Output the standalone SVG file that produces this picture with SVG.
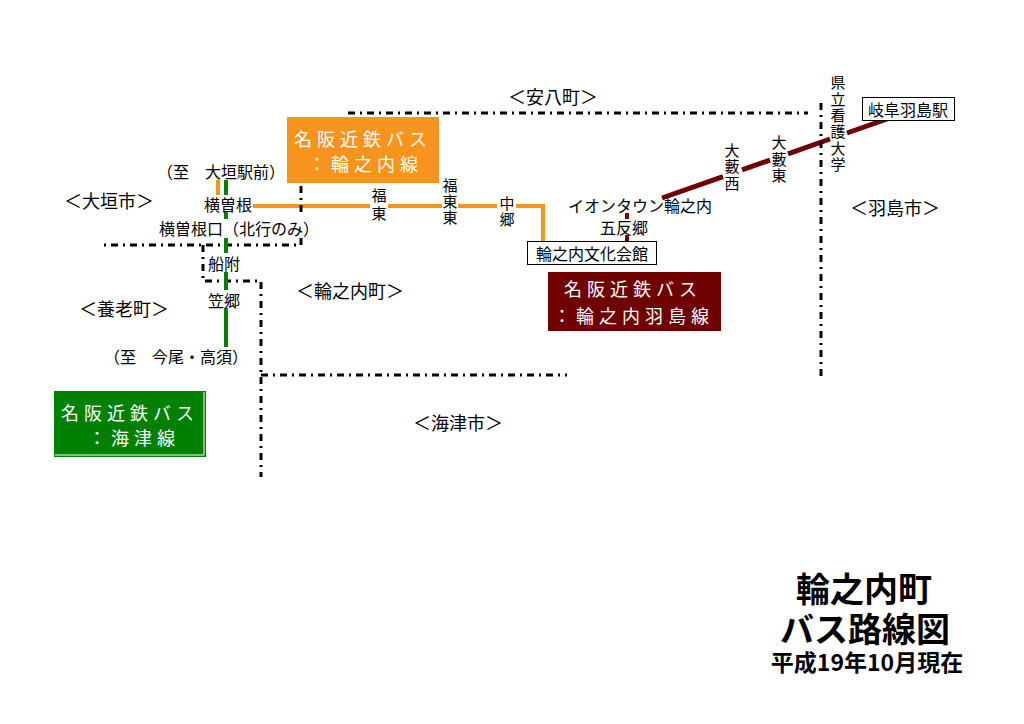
<svg xmlns="http://www.w3.org/2000/svg" width="1024" height="724" viewBox="0 0 1024 724">
<style>
text{font-family:"Noto Sans CJK JP","Noto Sans CJK SC",sans-serif;fill:#000;dominant-baseline:central}
.st{font-size:16px}
.vt{font-size:15px;writing-mode:vertical-rl;text-orientation:upright}
.rg{font-size:18px;text-anchor:middle}
.mid{text-anchor:middle}
.lg{font-size:18px;fill:#fff;letter-spacing:5px}
.ttl{font-weight:bold;text-anchor:middle}
.bd{fill:none;stroke:#000;stroke-width:3;stroke-dasharray:7 5 2 5}
.or{fill:none;stroke:#F7941D;stroke-width:4}
.rd{fill:none;stroke:#700000;stroke-width:4}
.rdd{fill:none;stroke:#700000;stroke-width:5}
.gr{fill:none;stroke:#008000;stroke-width:4}
.box{fill:#fff;stroke:#000;stroke-width:1}
</style>
<rect width="1024" height="724" fill="#fff"/>
<g id="connectors">
<path class="or" d="M218 180V195"/>
<path class="or" d="M253 206H370M388 206H442M458 206H497M516 206H543V241"/>
<path class="rdd" d="M662 198L723 176.6M742 169.9L770 160.1M788 153.8L830 139M847 133L887 119"/>
<path class="rd" d="M627 213V219M627 235V242"/>
<path class="bd" d="M348 113H808"/>
<path class="bd" d="M821 103V377"/>
<path class="bd" d="M301 186V214"/>
<path class="bd" d="M301 238V245H100"/>
<path class="bd" d="M203 245V281H261V477"/>
<path class="bd" d="M261 375H567"/>
<path class="gr" d="M226 180V195M226 212V219M226 238V253M226 272V290M226 308V347"/>
</g>
<g id="legend-wanouchi">
<rect x="287" y="117" width="152" height="66" fill="#F7941D"/>
<text class="lg" x="294" y="138">名阪近鉄バス</text>
<text class="lg" x="308" y="163">：輪之内線</text>
</g>
<g id="legend-hashima">
<rect x="548" y="272" width="173" height="59" fill="#6E0000"/>
<text class="lg" x="564" y="288">名阪近鉄バス</text>
<text class="lg" x="553" y="315">：輪之内羽島線</text>
</g>
<g id="legend-kaizu">
<rect x="54" y="391" width="152" height="66" fill="#008000"/>
<polyline points="55,455 204,455 204,392" fill="none" stroke="#fff" stroke-width="1"/>
<text class="lg" x="61" y="412">名阪近鉄バス</text>
<text class="lg" x="88" y="437">：海津線</text>
</g>
<g id="regions">
<text class="rg" x="553" y="96">＜安八町＞</text>
<text class="rg" x="109" y="200">＜大垣市＞</text>
<text class="rg" x="124" y="308">＜養老町＞</text>
<text class="rg" x="350" y="290">＜輪之内町＞</text>
<text class="rg" x="458" y="422">＜海津市＞</text>
<text class="rg" x="895" y="207">＜羽島市＞</text>
</g>
<g id="st-ogaki"><text class="st mid" x="221" y="171">（至　大垣駅前）</text></g>
<g id="st-yokosone"><text class="st mid" x="228" y="204">横曽根</text></g>
<g id="st-yokosoneguchi"><text class="st" x="159" y="228">横曽根口（北行のみ）</text></g>
<g id="st-funatsuki"><text class="st mid" x="224" y="263">船附</text></g>
<g id="st-kasago"><text class="st mid" x="224" y="300">笠郷</text></g>
<g id="st-imao"><text class="st mid" x="176" y="356">（至　今尾・高須）</text></g>
<g id="st-fukuhigashi"><text class="vt" x="379" y="187.5" letter-spacing="3">福東</text></g>
<g id="st-fukuhigashihigashi"><text class="vt" x="450" y="177.5" letter-spacing="1">福東東</text></g>
<g id="st-nakago"><text class="vt" x="507" y="195.5" letter-spacing="1">中郷</text></g>
<g id="st-bunka">
<rect class="box" x="527.5" y="241.5" width="129" height="23"/>
<text class="st mid" x="592" y="253">輪之内文化会館</text>
</g>
<g id="st-aeon"><text class="st mid" x="640" y="205">イオンタウン輪之内</text></g>
<g id="st-gotango"><text class="st mid" x="624" y="227">五反郷</text></g>
<g id="st-oyabunishi"><text class="vt" x="732" y="142.5" letter-spacing="1.5">大藪西</text></g>
<g id="st-oyabuhigashi"><text class="vt" x="779" y="135" letter-spacing="1.5">大藪東</text></g>
<g id="st-kango"><text class="vt" x="838" y="75" letter-spacing="1.4">県立看護大学</text></g>
<g id="st-gifuhashima">
<rect class="box" x="862.5" y="97.5" width="92" height="23"/>
<text class="st mid" x="908" y="108.5">岐阜羽島駅</text>
</g>
<g id="title">
<text class="ttl" x="864" y="587" font-size="34">輪之内町</text>
<text class="ttl" x="865" y="627" font-size="34">バス路線図</text>
<text class="ttl" x="867" y="661" font-size="23">平成19年10月現在</text>
</g>
</svg>
